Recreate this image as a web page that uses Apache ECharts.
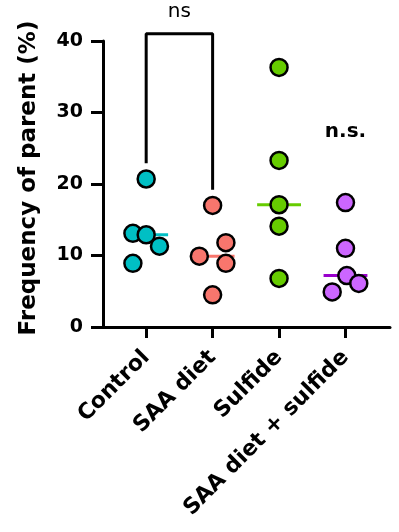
<!doctype html>
<html><head><meta charset="utf-8" />
<style>html,body,#app{margin:0;padding:0;width:399px;height:532px;background:#ffffff}</style>
<script src="https://cdn.jsdelivr.net/npm/echarts@6/dist/echarts.min.js"></script>
</head><body><div id="app"></div>
<script>
// groups on the x axis (1..4)
const categories = ['Control', 'SAA diet', 'Sulfide', 'SAA diet + sulfide'];
const yTicks = [0, 10, 20, 30, 40];

// per-point x positions (group index + jitter) and values
const controlX = [1, 0.8, 1, 1.2, 0.8];
const controlY = [20.7, 13.1, 12.9, 11.3, 8.9];
const saaX = [2, 2.2, 1.8, 2.2, 2];
const saaY = [17.0, 11.8, 9.9, 8.9, 4.5];
const sulfideX = [3, 3, 3, 3, 3];
const sulfideY = [36.3, 23.3, 17.1, 14.1, 6.8];
const bothX = [4, 4, 4.02, 4.2, 3.8];
const bothY = [17.4, 11.0, 7.2, 6.1, 4.9];
const medians = [12.9, 9.9, 17.1, 7.2];

// comparison bracket Control vs SAA diet
const bracketX = [1, 1, 2, 2];
const bracketY = [22.9, 41.0, 41.0, 19.2];
const annotations = [
  { x: 1.5, y: 44.1, text: 'ns', weight: 'normal' },
  { x: 4, y: 27.3, text: 'n.s.', weight: 'bold' }
];

const fills = ['#00BFC4', '#F8766D', '#66CC00', '#CC66FF'];
const medianColors = ['#00BFC4', '#F8766D', '#66CC00', '#9900CC'];
const FONT = 'DejaVu Sans';

const groups = [[controlX, controlY], [saaX, saaY], [sulfideX, sulfideY], [bothX, bothY]];
const series = [];
medians.forEach(function (m, i) {
  series.push({
    type: 'line', data: [[i + 1 - 0.33, m], [i + 1 + 0.33, m]], symbol: 'none', z: 2,
    lineStyle: { color: medianColors[i], width: 3 }, silent: true
  });
});
groups.forEach(function (g, i) {
  series.push({
    type: 'scatter', z: 5, symbolSize: 17,
    data: g[0].map(function (x, k) { return [x, g[1][k]]; }),
    itemStyle: { color: fills[i], borderColor: '#000', borderWidth: 2.5, opacity: 1 }
  });
});
series.push({
  type: 'line', data: bracketX.map(function (x, k) { return [x, bracketY[k]]; }),
  symbol: 'none', clip: false, z: 3, lineStyle: { color: '#000', width: 3 }
});

const chart = echarts.init(document.getElementById('app'), null, { renderer: 'canvas' });
chart.setOption({
  backgroundColor: '#ffffff',
  animation: false,
  grid: { left: 103, right: 9, top: 41, bottom: 205, containLabel: false },
  xAxis: {
    type: 'value', min: 0.35, max: 4.67,
    splitLine: { show: false },
    axisLine: { show: true, lineStyle: { color: '#000', width: 3 } },
    axisTick: { show: true, customValues: [1, 2, 3, 4], length: 11, lineStyle: { color: '#000', width: 3 } },
    axisLabel: {
      customValues: [1, 2, 3, 4], rotate: 45, margin: 27,
      formatter: function (v) { return categories[Math.round(v) - 1] || ''; },
      color: '#000', fontFamily: FONT, fontWeight: 'bold', fontSize: 22
    }
  },
  yAxis: {
    type: 'value', min: 0, max: 40, interval: 10,
    splitLine: { show: false },
    axisLine: { show: true, lineStyle: { color: '#000', width: 3 } },
    axisTick: { show: true, length: 12, lineStyle: { color: '#000', width: 3 } },
    axisLabel: {
      margin: 20, color: '#000', fontFamily: FONT, fontWeight: 'bold', fontSize: 19,
      formatter: function (v) { return yTicks.indexOf(v) >= 0 ? String(v) : ''; }
    }
  },
  series: series
});

// title and significance texts, placed through the chart's own scales
const graphics = [{
  type: 'text', x: 29, y: 178, rotation: Math.PI / 2,
  style: {
    text: 'Frequency of parent (%)', fill: '#000',
    font: 'bold 23px "DejaVu Sans"', textAlign: 'center', textVerticalAlign: 'middle'
  }
}];
annotations.forEach(function (a) {
  const p = chart.convertToPixel({ gridIndex: 0 }, [a.x, a.y]);
  graphics.push({
    type: 'text', x: p[0], y: p[1], z: 10,
    style: {
      text: a.text, fill: '#000', font: a.weight + ' 20px "DejaVu Sans"',
      textAlign: 'center', textVerticalAlign: 'middle'
    }
  });
});
chart.setOption({ graphic: graphics });
</script></body></html>
